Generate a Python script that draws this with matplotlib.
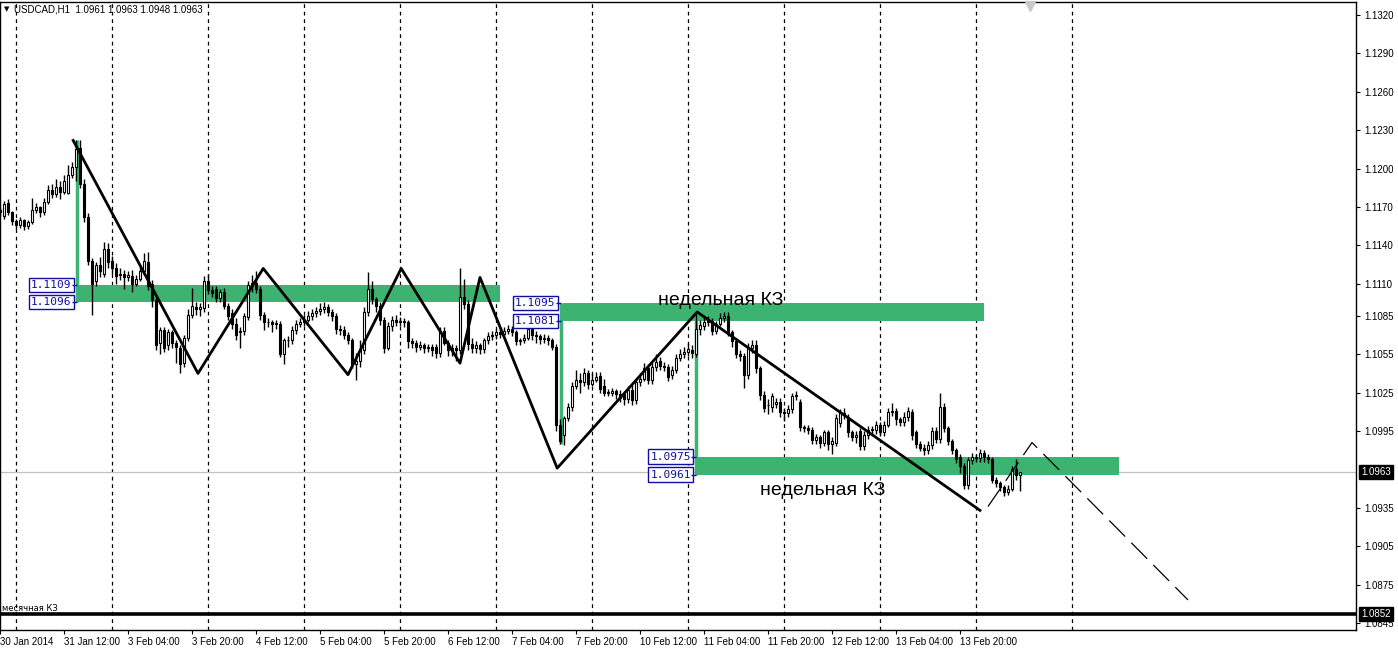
import matplotlib
matplotlib.use("Agg")
import matplotlib.pyplot as plt
import matplotlib.transforms as mtransforms
import numpy as np

# H1 candles, prices in 1/10000 (bar 0 = 30 Jan 20:00)
opens = [11168, 11163, 11173, 11166, 11159, 11156, 11160, 11155, 11158, 11168, 11170, 11166, 11174, 11183, 11180, 11186,
         11182, 11181, 11195, 11201, 11216, 11188, 11162, 11128, 11112, 11125, 11118, 11137, 11128, 11122, 11117, 11118,
         11115, 11116, 11110, 11114, 11120, 11127, 11110, 11097, 11064, 11074, 11062, 11072, 11064, 11060, 11048, 11068,
         11086, 11092, 11090, 11091, 11112, 11105, 11106, 11099, 11104, 11093, 11087, 11079, 11072, 11073, 11084, 11108,
         11111, 11106, 11086, 11080, 11080, 11079, 11079, 11055, 11066, 11066, 11074, 11079, 11080, 11082, 11085, 11087,
         11089, 11090, 11092, 11088, 11085, 11075, 11074, 11070, 11066, 11047, 11050, 11058, 11088, 11106, 11098, 11093,
         11082, 11060, 11077, 11082, 11080, 11081, 11080, 11065, 11064, 11061, 11062, 11060, 11061, 11061, 11056, 11073,
         11064, 11058, 11060, 11058, 11100, 11094, 11063, 11060, 11062, 11059, 11066, 11069, 11070, 11072, 11071, 11073,
         11075, 11072, 11065, 11066, 11068, 11075, 11070, 11069, 11067, 11068, 11066, 11061, 11000, 10992, 11005, 11014,
         11030, 11035, 11033, 11040, 11032, 11035, 11038, 11030, 11025, 11025, 11026, 11024, 11024, 11020, 11027, 11019,
         11033, 11036, 11044, 11035, 11045, 11050, 11046, 11045, 11039, 11043, 11052, 11055, 11057, 11058, 11055, 11075,
         11077, 11080, 11081, 11073, 11079, 11083, 11085, 11072, 11065, 11055, 11054, 11039, 11060, 11062, 11044, 11023,
         11015, 11014, 11016, 11018, 11010, 11009, 11012, 11022, 11018, 10998, 10997, 10996, 10988, 10990, 10986, 10994,
         10985, 10986, 11001, 11008, 11005, 10994, 10990, 10995, 10983, 10992, 10996, 10996, 11000, 10994, 11000, 11010,
         11011, 11004, 11002, 11006, 11010, 10994, 10985, 10982, 10980, 10984, 10995, 10989, 11014, 10997, 10987, 10980,
         10975, 10968, 10953, 10972, 10975, 10974, 10978, 10975, 10973, 10957, 10954, 10951, 10947, 10950, 10965, 10961]
highs = [11170, 11175, 11176, 11167, 11161, 11162, 11161, 11160, 11177, 11173, 11171, 11177, 11187, 11188, 11192, 11190,
         11195, 11203, 11205, 11222, 11222, 11192, 11165, 11130, 11127, 11131, 11143, 11142, 11132, 11126, 11122, 11121,
         11120, 11121, 11117, 11125, 11134, 11135, 11113, 11100, 11076, 11076, 11075, 11074, 11066, 11062, 11070, 11090,
         11107, 11096, 11095, 11116, 11118, 11108, 11108, 11106, 11107, 11095, 11090, 11083, 11076, 11087, 11112, 11117,
         11120, 11108, 11088, 11083, 11082, 11082, 11081, 11068, 11069, 11077, 11082, 11083, 11086, 11089, 11090, 11092,
         11095, 11096, 11094, 11090, 11087, 11078, 11077, 11072, 11068, 11056, 11066, 11092, 11119, 11112, 11100, 11096,
         11084, 11080, 11085, 11086, 11084, 11083, 11082, 11068, 11066, 11065, 11064, 11063, 11063, 11063, 11076, 11076,
         11066, 11063, 11062, 11122, 11114, 11097, 11068, 11065, 11064, 11068, 11072, 11073, 11075, 11075, 11076, 11078,
         11077, 11074, 11068, 11071, 11079, 11078, 11073, 11071, 11071, 11070, 11068, 11063, 11004, 11007, 11017, 11033,
         11043, 11040, 11044, 11043, 11040, 11041, 11041, 11036, 11028, 11029, 11028, 11027, 11026, 11030, 11031, 11036,
         11040, 11048, 11047, 11048, 11055, 11053, 11049, 11047, 11046, 11055, 11059, 11061, 11064, 11062, 11088, 11082,
         11085, 11085, 11083, 11081, 11087, 11088, 11088, 11074, 11067, 11058, 11056, 11064, 11066, 11066, 11046, 11026,
         11020, 11025, 11021, 11021, 11013, 11015, 11025, 11026, 11020, 11000, 11000, 10998, 10993, 10992, 10996, 10996,
         10990, 11008, 11012, 11013, 11008, 10996, 10995, 10997, 10995, 10999, 10999, 11003, 11002, 11003, 11013, 11017,
         11013, 11006, 11010, 11014, 11012, 10996, 10987, 10985, 10987, 10998, 10998, 11025, 11017, 10999, 10989, 10982,
         10977, 10970, 10975, 10978, 10977, 10981, 10980, 10977, 10975, 10959, 10956, 10953, 10953, 10968, 10973, 10963]
lows = [11163, 11161, 11164, 11156, 11153, 11154, 11152, 11153, 11157, 11165, 11162, 11164, 11172, 11177, 11178, 11176,
        11180, 11180, 11193, 11190, 11185, 11158, 11125, 11086, 11108, 11115, 11115, 11122, 11118, 11110, 11113, 11106,
        11112, 11104, 11108, 11112, 11117, 11105, 11092, 11058, 11055, 11057, 11058, 11060, 11048, 11040, 11045, 11065,
        11083, 11086, 11085, 11088, 11102, 11100, 11096, 11096, 11090, 11082, 11075, 11066, 11060, 11070, 11082, 11104,
        11103, 11082, 11074, 11076, 11072, 11075, 11053, 11047, 11061, 11063, 11071, 11076, 11077, 11080, 11082, 11084,
        11086, 11087, 11085, 11081, 11071, 11070, 11067, 11063, 11044, 11035, 11045, 11055, 11085, 11094, 11088, 11078,
        11056, 11058, 11073, 11077, 11077, 11076, 11060, 11060, 11057, 11058, 11056, 11057, 11054, 11052, 11053, 11062,
        11054, 11054, 11050, 11055, 11090, 11058, 11056, 11056, 11055, 11056, 11063, 11066, 11067, 11068, 11069, 11071,
        11069, 11062, 11062, 11064, 11066, 11066, 11064, 11063, 11064, 11062, 11058, 10995, 10985, 10984, 11003, 11011,
        11028, 11025, 11030, 11028, 11030, 11033, 11025, 11022, 11022, 11022, 11020, 11018, 11015, 11017, 11015, 11016,
        11030, 11034, 11032, 11032, 11042, 11043, 11042, 11034, 11036, 11040, 11050, 11052, 11054, 11052, 11053, 11070,
        11074, 11077, 11070, 11071, 11077, 11080, 11069, 11061, 11052, 11050, 11029, 11036, 11056, 11040, 11019, 11010,
        11008, 11010, 11013, 11006, 11003, 11006, 11009, 11019, 10995, 10994, 10993, 10985, 10985, 10982, 10983, 10980,
        10977, 10983, 10998, 11004, 10990, 10987, 10986, 10980, 10980, 10989, 10992, 10993, 10991, 10991, 10998, 11007,
        11000, 10999, 10999, 11003, 10988, 10982, 10979, 10976, 10977, 10981, 10986, 10986, 10994, 10984, 10977, 10970,
        10962, 10950, 10950, 10969, 10971, 10971, 10971, 10970, 10954, 10951, 10948, 10944, 10945, 10948, 10957, 10948]
closes = [11166, 11172, 11166, 11159, 11156, 11160, 11155, 11158, 11168, 11170, 11166, 11174, 11183, 11180, 11186, 11182,
          11190, 11195, 11201, 11215, 11188, 11162, 11128, 11110, 11125, 11120, 11137, 11127, 11122, 11116, 11118, 11115,
          11117, 11110, 11114, 11120, 11128, 11108, 11097, 11062, 11074, 11060, 11072, 11064, 11061, 11047, 11068, 11086,
          11093, 11090, 11092, 11112, 11105, 11103, 11099, 11104, 11093, 11085, 11079, 11070, 11073, 11085, 11109, 11111,
          11106, 11086, 11080, 11080, 11079, 11079, 11055, 11066, 11066, 11074, 11079, 11080, 11082, 11085, 11087, 11089,
          11090, 11092, 11088, 11085, 11075, 11074, 11070, 11066, 11047, 11050, 11058, 11088, 11106, 11098, 11093, 11082,
          11060, 11077, 11082, 11080, 11081, 11080, 11065, 11064, 11061, 11062, 11060, 11061, 11058, 11056, 11073, 11064,
          11058, 11060, 11058, 11100, 11094, 11063, 11060, 11062, 11059, 11066, 11069, 11070, 11072, 11071, 11073, 11075,
          11072, 11065, 11066, 11068, 11075, 11070, 11069, 11067, 11068, 11066, 11061, 11000, 10987, 11005, 11014, 11030,
          11035, 11033, 11040, 11032, 11035, 11037, 11028, 11025, 11025, 11026, 11024, 11021, 11020, 11027, 11019, 11033,
          11036, 11044, 11035, 11045, 11049, 11046, 11045, 11037, 11043, 11052, 11055, 11057, 11059, 11056, 11075, 11078,
          11080, 11081, 11073, 11079, 11083, 11085, 11072, 11065, 11055, 11054, 11039, 11060, 11062, 11044, 11023, 11013,
          11015, 11022, 11018, 11010, 11009, 11012, 11022, 11023, 10998, 10997, 10996, 10988, 10990, 10986, 10994, 10985,
          10987, 11005, 11009, 11009, 10994, 10990, 10992, 10983, 10992, 10996, 10996, 11000, 10994, 11000, 11010, 11011,
          11004, 11002, 11006, 11011, 10992, 10985, 10982, 10980, 10984, 10995, 10989, 11014, 10997, 10987, 10980, 10973,
          10968, 10953, 10972, 10975, 10974, 10978, 10975, 10973, 10957, 10954, 10951, 10947, 10950, 10965, 10961, 10963]

# day separators and time axis labels (bar numbers)
day_bars = [4, 28, 52, 76, 100, 124, 148, 172, 196, 220, 244, 268]
time_bars = [0, 16, 32, 48, 64, 80, 96, 112, 128, 144, 160, 176, 192, 208, 224, 240]
time_labels = ["30 Jan 2014", "31 Jan 12:00", "3 Feb 04:00", "3 Feb 20:00", "4 Feb 12:00", "5 Feb 04:00",
               "5 Feb 20:00", "6 Feb 12:00", "7 Feb 04:00", "7 Feb 20:00", "10 Feb 12:00", "11 Feb 04:00",
               "11 Feb 20:00", "12 Feb 12:00", "13 Feb 04:00", "13 Feb 20:00"]
price_ticks = [1.1320, 1.1290, 1.1260, 1.1230, 1.1200, 1.1170, 1.1140, 1.1110, 1.1085, 1.1055, 1.1025,
               1.0995, 1.0935, 1.0905, 1.0875, 1.0845]

# zones (weekly levels)
zone_start = [19.3, 140.7, 174.5]
zone_end = [125, 246, 279.8]
zone_low = [1.1096, 1.1081, 1.0961]
zone_high = [1.1109, 1.1095, 1.0975]
zone_stem_top = [1.1222, 1.1095, 1.1088]
zone_stem_bot = [1.1096, 1.0985, 1.0961]
zone_stem_bar = [19.2, 140.2, 174.0]

# zigzag
zz_bars = [18.3, 49.5, 65.8, 87.0, 100.3, 115.0, 120.0, 139.3, 174.3, 245.0]
zz_prices = [1.1222, 1.1040, 1.1122, 1.1039, 1.1122, 1.1048, 1.1115, 1.0966, 1.1088, 1.0933]
proj_bars = [247.0, 258.0, 297.0]
proj_prices = [1.0936, 1.0986, 1.0863]

bid = 1.0963
month_level = 1.0852

o = np.array(opens) / 10000
h = np.array(highs) / 10000
l = np.array(lows) / 10000
c = np.array(closes) / 10000
idx = np.arange(len(c))

fig = plt.figure(figsize=(13.98, 6.49), dpi=100)
ax = fig.add_axes([0, 19 / 649, 1356 / 1398, 628 / 649])
ax.set_xlim(0, 339)
ax.set_ylim(1.083953, 1.13302)

green = "#3cb371"
for s, e, lo, hi in zip(zone_start, zone_end, zone_low, zone_high):
    ax.fill_between([s, e], lo, hi, color=green, lw=0, zorder=1)
for xb, top, bot in zip(zone_stem_bar, zone_stem_top, zone_stem_bot):
    ax.vlines(xb, bot, top, color=green, lw=2.5, zorder=1)

for b in day_bars:
    ax.axvline(b, color="black", lw=0.9, ls=(0, (3, 3)), zorder=0.5)

ax.axhline(bid, color="#c0c0c0", lw=0.9, zorder=0.6)
ax.axhline(month_level, color="black", lw=2.6, zorder=2)

# candles
up = c >= o
ax.vlines(idx, l, h, color="black", lw=1, zorder=2)
bot = np.minimum(o, c)
hgt = np.maximum(np.abs(c - o), 0.00002)
ax.bar(idx[up], hgt[up], bottom=bot[up], width=0.66, color="white", edgecolor="black", lw=0.8, zorder=3)
ax.bar(idx[~up], hgt[~up], bottom=bot[~up], width=0.66, color="black", edgecolor="black", lw=0.8, zorder=3)

ax.plot(zz_bars, zz_prices, color="black", lw=2, zorder=4)
ax.plot(proj_bars, proj_prices, color="black", lw=0.9, ls=(0, (18, 7)), zorder=4)

# zone price labels
lab_kw = dict(fontsize=8, family="DejaVu Sans Mono", color="#1010a0", ha="right", va="center",
              bbox=dict(boxstyle="square,pad=0.2", fc="white", ec="#1010a0", lw=1), zorder=6)
for s, lo, hi in zip(zone_stem_bar, zone_low, zone_high):
    ax.text(s - 1.3, hi, "%.4f" % hi, **lab_kw)
    ax.text(s - 1.3, lo, "%.4f" % lo, **lab_kw)
    ax.hlines([hi, lo], s - 1.3, s, color="#1010a0", lw=1, zorder=6)

ax.text(164.5, 1.10973, "недельная КЗ", fontsize=14, family="Liberation Sans", va="center", zorder=6)
ax.text(190.0, 1.09482, "недельная КЗ", fontsize=14, family="Liberation Sans", va="center", zorder=6)
ax.text(0.4, 1.08565, "месячная КЗ", fontsize=6, va="center", zorder=6)

# axes styling
for sp in ax.spines.values():
    sp.set_color("black")
    sp.set_linewidth(1)
ax.yaxis.tick_right()
ax.set_yticks(price_ticks)
ax.set_yticklabels(["%.4f" % v for v in price_ticks], family="Liberation Sans")
ax.tick_params(axis="y", direction="out", length=3, width=0.8, pad=3, labelsize=7)
ax.set_xticks(time_bars)
ax.set_xticklabels(time_labels, family="Liberation Sans")
ax.tick_params(axis="x", direction="out", length=3, width=0.8, pad=2, labelsize=7)
for t in ax.get_xticklabels():
    t.set_horizontalalignment("left")

tr = mtransforms.blended_transform_factory(ax.transAxes, ax.transData)
for v in [bid, month_level]:
    ax.text(1.004, v, "%.4f" % v, transform=tr, fontsize=7, family="Liberation Sans", color="white",
            va="center", ha="left", bbox=dict(boxstyle="square,pad=0.2", fc="black", ec="black"), zorder=7)

ax.plot([257.5], [1.1327], marker="v", color="#c8c8c8", ms=7, clip_on=False, zorder=7)

fig.text(4 / 1398, 1 - 9 / 649, "▼", fontsize=5, va="center")
fig.text(14 / 1398, 1 - 9 / 649, "USDCAD,H1  1.0961 1.0963 1.0948 1.0963", fontsize=7,
         family="Liberation Sans", va="center")

fig.savefig("out.png", dpi=100, facecolor="white")
